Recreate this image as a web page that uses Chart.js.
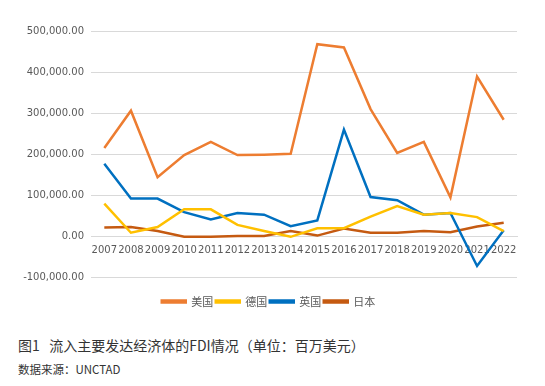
<!DOCTYPE html>
<html>
<head>
<meta charset="utf-8">
<script src="https://cdn.jsdelivr.net/npm/chart.js@4"></script>
<style>
  body { margin: 0; background: #fff; width: 545px; height: 386px; position: relative; overflow: hidden; }
  #wrap { position: absolute; left: 0; top: 0; width: 545px; height: 322px; }
  .cap { position: absolute; left: 18px; font-family: "Noto Sans CJK SC", sans-serif; color: #333; white-space: nowrap; }
  #cap1 { top: 335px; font-size: 14px; }
  #cap2 { top: 361px; font-size: 11.5px; }
</style>
</head>
<body>
<div id="wrap"><canvas id="fdiChart"></canvas></div>
<div class="cap" id="cap1">图1&nbsp;&nbsp;&nbsp;流入主要发达经济体的FDI情况（单位：百万美元）</div>
<div class="cap" id="cap2">数据来源：UNCTAD</div>
<script>
// 연도 (x축)
const years = ['2007','2008','2009','2010','2011','2012','2013','2014','2015','2016','2017','2018','2019','2020','2021','2022'];

// 각 나라 FDI 유입 (百万美元)
const usData = [215000, 306000, 144000, 198000, 230000, 198000, 199000, 201000, 468000, 460000, 310000, 203000, 230000, 95000, 389000, 284000];
const deData = [80000, 9000, 23000, 66000, 66000, 28000, 13000, -1000, 20000, 20000, 48000, 74000, 53000, 57000, 47000, 13000];
const ukData = [177000, 92000, 92000, 59000, 41000, 57000, 53000, 25000, 39000, 260000, 96000, 88000, 53000, 57000, -72000, 15000];
const jpData = [22000, 23000, 13000, -1000, -1000, 1000, 1000, 13000, 2000, 19000, 9000, 9000, 13000, 10000, 24000, 33000];

const seriesNames = ['美国', '德国', '英国', '日本'];

const tickFont = { family: 'DejaVu Sans', size: 10 };

function makeSet(label, data, color) {
    return { label: label, data: data, borderColor: color, backgroundColor: color,
             borderWidth: 2.5, pointRadius: 0, tension: 0, fill: false };
}

const ctx = document.getElementById('fdiChart').getContext('2d');
const myChart = new Chart(ctx, {
    type: 'line',
    data: {
        labels: years,
        datasets: [
            makeSet(seriesNames[0], usData, '#ED7D31'),
            makeSet(seriesNames[1], deData, '#FFC000'),
            makeSet(seriesNames[2], ukData, '#0070C0'),
            makeSet(seriesNames[3], jpData, '#C55A11')
        ]
    },
    options: {
        responsive: true,
        maintainAspectRatio: false,
        animation: false,
        layout: { padding: { top: 31, right: 28, left: 20, bottom: 5 } },
        plugins: {
            legend: {
                position: 'bottom',
                // 빈 제목으로 차트와 범례 사이 간격 확보
                title: { display: true, text: '', font: { size: 10 }, padding: { top: 4, bottom: 0 } },
                labels: { boxWidth: 24, boxHeight: 2, color: '#595959', padding: 2.5,
                          font: { family: 'Noto Sans CJK SC', size: 11 } }
            },
            tooltip: { enabled: false }
        },
        scales: {
            x: {
                position: { y: 0 },
                offset: true,
                grid: { display: false, drawTicks: false },
                border: { display: true, color: '#d9d9d9', width: 1 },
                ticks: { color: '#595959', font: tickFont, padding: 8, maxRotation: 0, autoSkip: false }
            },
            y: {
                min: -100000,
                max: 500000,
                grid: { color: '#d9d9d9', drawTicks: false },
                border: { display: false },
                afterFit: function (scale) { scale.width = 71; },
                ticks: {
                    stepSize: 100000,
                    color: '#595959',
                    font: tickFont,
                    padding: 7,
                    callback: function (v) {
                        return v.toLocaleString('en-US', { minimumFractionDigits: 2, maximumFractionDigits: 2 });
                    }
                }
            }
        }
    }
});
</script>
</body>
</html>
